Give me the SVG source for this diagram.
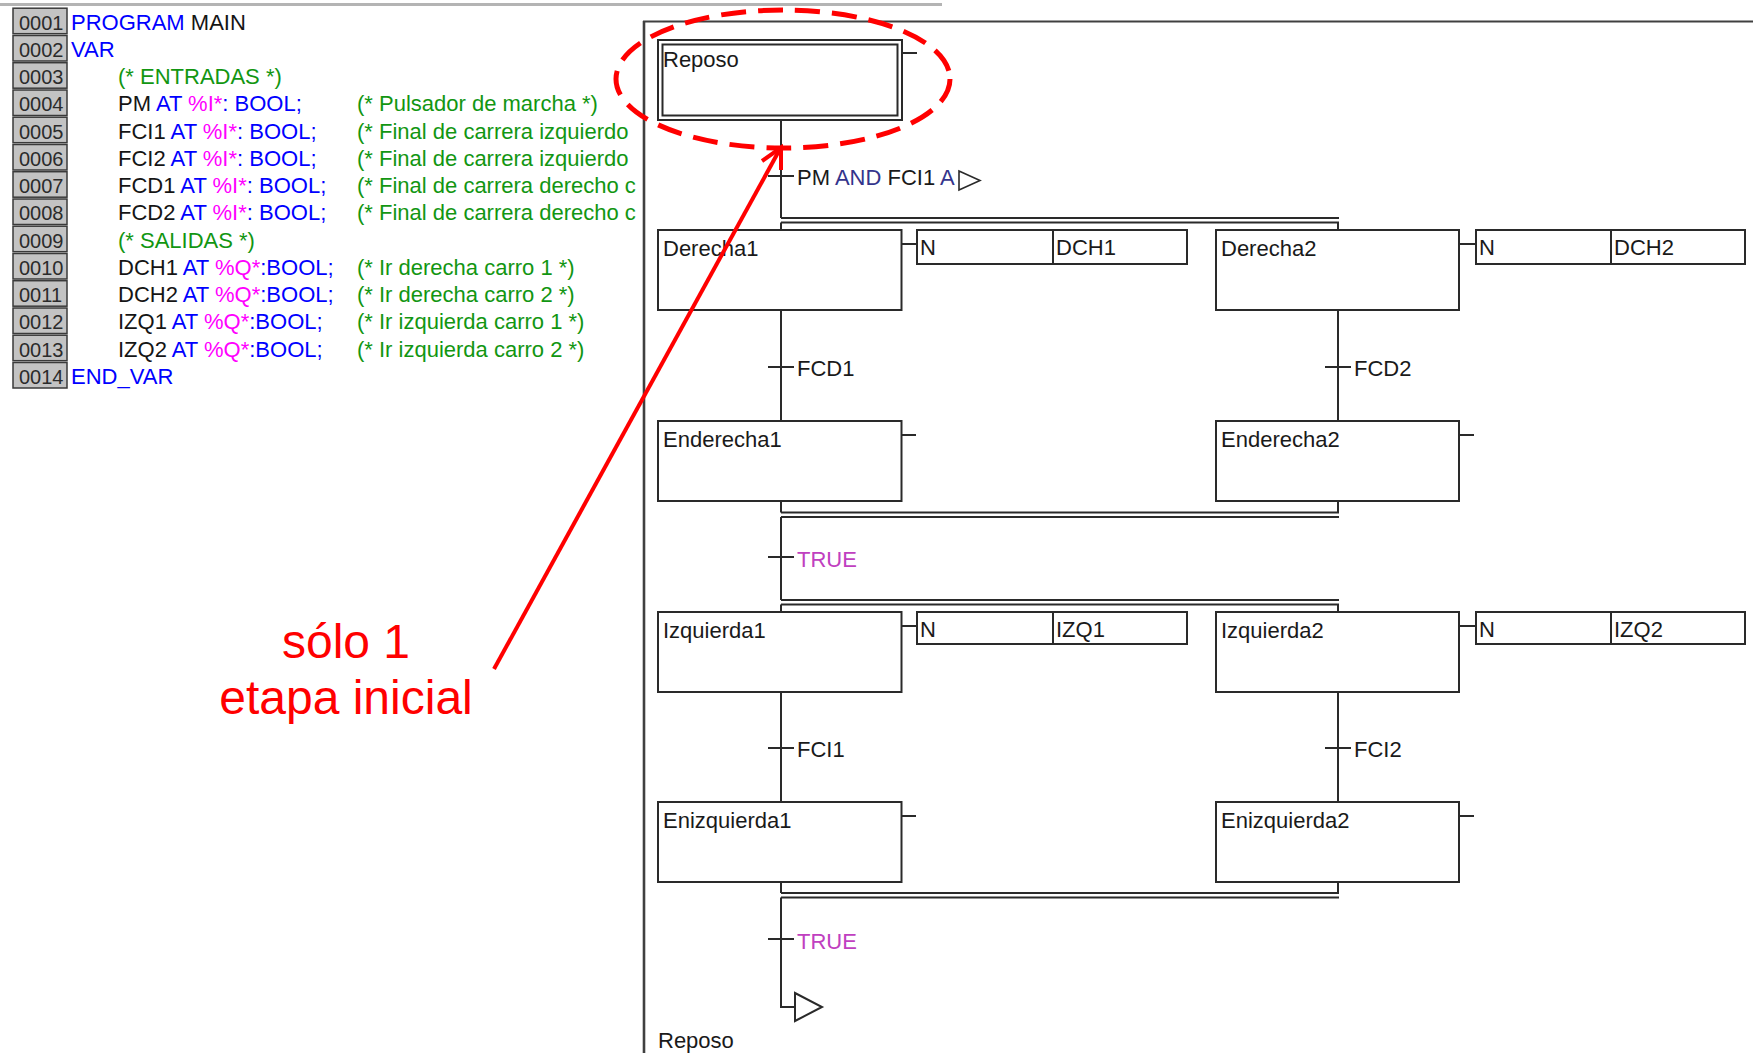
<svg xmlns="http://www.w3.org/2000/svg" width="1753" height="1053" viewBox="0 0 1753 1053">
  <defs>
    <style>
      text { font-family: "Liberation Sans", Arial, sans-serif; }
      .code { font-size: 22px; }
      .ln { font-size: 20px; fill: #2b2b2b; }
      .kw { fill: #0000ff; }
      .id { fill: #151515; }
      .ad { fill: #ff00ff; }
      .cm { fill: #129612; }
      .lnbox { fill: #c3c3c3; stroke: #3a3a3a; stroke-width: 1.5; }
      .lnhi { stroke: #f4f4f4; stroke-width: 1.2; fill: none; }
      .frame { stroke: #404040; fill: none; }
      .step { fill: #ffffff; stroke: #2a2a2a; stroke-width: 2; }
      .act { fill: #ffffff; stroke: #2a2a2a; stroke-width: 2; }
      .wire { stroke: #2a2a2a; stroke-width: 2; fill: none; }
      .lbl { font-size: 22px; fill: #1a1a1a; }
      .op { fill: #34348c; }
      .tru { fill: #c040c0; }
      .red { stroke: #ff0000; fill: none; }
      .note { font-size: 48px; fill: #ff0000; text-anchor: middle; }
    </style>
    <clipPath id="codeClip">
      <rect x="0" y="0" width="642" height="1053"/>
    </clipPath>
  </defs>

  <rect width="1753" height="1053" fill="#ffffff"/>

  <!-- window frame -->
  <g id="frame">
    <line class="frame" x1="0" y1="4.5" x2="942" y2="4.5" stroke="#b8b8b8" style="stroke:#b4b4b4" stroke-width="3"/>
    <line class="frame" x1="644" y1="21" x2="644" y2="1053" stroke-width="2.6"/>
    <line class="frame" x1="643" y1="21.5" x2="1753" y2="21.5" stroke-width="2"/>
  </g>

  <!-- declaration editor -->
  <g id="code-panel" clip-path="url(#codeClip)">
    <g id="line-numbers">
      <rect class="lnbox" x="13" y="8.2" width="54" height="25.5"/>
      <rect class="lnbox" x="13" y="35.5" width="54" height="25.5"/>
      <rect class="lnbox" x="13" y="62.7" width="54" height="25.5"/>
      <rect class="lnbox" x="13" y="90" width="54" height="25.5"/>
      <rect class="lnbox" x="13" y="117.2" width="54" height="25.5"/>
      <rect class="lnbox" x="13" y="144.5" width="54" height="25.5"/>
      <rect class="lnbox" x="13" y="171.7" width="54" height="25.5"/>
      <rect class="lnbox" x="13" y="199" width="54" height="25.5"/>
      <rect class="lnbox" x="13" y="226.2" width="54" height="25.5"/>
      <rect class="lnbox" x="13" y="253.5" width="54" height="25.5"/>
      <rect class="lnbox" x="13" y="280.7" width="54" height="25.5"/>
      <rect class="lnbox" x="13" y="308" width="54" height="25.5"/>
      <rect class="lnbox" x="13" y="335.2" width="54" height="25.5"/>
      <rect class="lnbox" x="13" y="362.5" width="54" height="25.5"/>
      <text class="ln" x="19" y="29.5">0001</text>
      <text class="ln" x="19" y="56.75">0002</text>
      <text class="ln" x="19" y="84">0003</text>
      <text class="ln" x="19" y="111.25">0004</text>
      <text class="ln" x="19" y="138.5">0005</text>
      <text class="ln" x="19" y="165.75">0006</text>
      <text class="ln" x="19" y="193">0007</text>
      <text class="ln" x="19" y="220.25">0008</text>
      <text class="ln" x="19" y="247.5">0009</text>
      <text class="ln" x="19" y="274.75">0010</text>
      <text class="ln" x="19" y="302">0011</text>
      <text class="ln" x="19" y="329.25">0012</text>
      <text class="ln" x="19" y="356.5">0013</text>
      <text class="ln" x="19" y="383.75">0014</text>
    </g>
    <g id="source">
      <text class="code" x="71" y="29.5"><tspan class="kw">PROGRAM</tspan><tspan class="id"> MAIN</tspan></text>
      <text class="code kw" x="71" y="56.75">VAR</text>
      <text class="code cm" x="118" y="84">(* ENTRADAS *)</text>
      <text class="code" x="118" y="111.25"><tspan class="id">PM</tspan><tspan class="kw"> AT </tspan><tspan class="ad">%I*</tspan><tspan class="kw">: BOOL;</tspan></text>
      <text class="code" x="118" y="138.5"><tspan class="id">FCI1</tspan><tspan class="kw"> AT </tspan><tspan class="ad">%I*</tspan><tspan class="kw">: BOOL;</tspan></text>
      <text class="code" x="118" y="165.75"><tspan class="id">FCI2</tspan><tspan class="kw"> AT </tspan><tspan class="ad">%I*</tspan><tspan class="kw">: BOOL;</tspan></text>
      <text class="code" x="118" y="193"><tspan class="id">FCD1</tspan><tspan class="kw"> AT </tspan><tspan class="ad">%I*</tspan><tspan class="kw">: BOOL;</tspan></text>
      <text class="code" x="118" y="220.25"><tspan class="id">FCD2</tspan><tspan class="kw"> AT </tspan><tspan class="ad">%I*</tspan><tspan class="kw">: BOOL;</tspan></text>
      <text class="code cm" x="118" y="247.5">(* SALIDAS *)</text>
      <text class="code" x="118" y="274.75"><tspan class="id">DCH1</tspan><tspan class="kw"> AT </tspan><tspan class="ad">%Q*</tspan><tspan class="kw">:BOOL;</tspan></text>
      <text class="code" x="118" y="302"><tspan class="id">DCH2</tspan><tspan class="kw"> AT </tspan><tspan class="ad">%Q*</tspan><tspan class="kw">:BOOL;</tspan></text>
      <text class="code" x="118" y="329.25"><tspan class="id">IZQ1</tspan><tspan class="kw"> AT </tspan><tspan class="ad">%Q*</tspan><tspan class="kw">:BOOL;</tspan></text>
      <text class="code" x="118" y="356.5"><tspan class="id">IZQ2</tspan><tspan class="kw"> AT </tspan><tspan class="ad">%Q*</tspan><tspan class="kw">:BOOL;</tspan></text>
      <text class="code kw" x="71" y="383.75">END_VAR</text>
      <text class="code cm" x="357" y="111.25">(* Pulsador de marcha *)</text>
      <text class="code cm" x="357" y="138.5">(* Final de carrera izquierdo</text>
      <text class="code cm" x="357" y="165.75">(* Final de carrera izquierdo</text>
      <text class="code cm" x="357" y="193">(* Final de carrera derecho c</text>
      <text class="code cm" x="357" y="220.25">(* Final de carrera derecho c</text>
      <text class="code cm" x="357" y="274.75">(* Ir derecha carro 1 *)</text>
      <text class="code cm" x="357" y="302">(* Ir derecha carro 2 *)</text>
      <text class="code cm" x="357" y="329.25">(* Ir izquierda carro 1 *)</text>
      <text class="code cm" x="357" y="356.5">(* Ir izquierda carro 2 *)</text>
    </g>
  </g>

  <!-- SFC links: step lines, parallel branches, transition bars -->
  <g id="connectors" class="wire">
    <!-- left branch -->
    <line x1="781" y1="120" x2="781" y2="218"/>
    <line x1="781" y1="222.5" x2="781" y2="230"/>
    <line x1="781" y1="310" x2="781" y2="421"/>
    <line x1="781" y1="501" x2="781" y2="512.5"/>
    <line x1="781" y1="517" x2="781" y2="600"/>
    <line x1="781" y1="604.5" x2="781" y2="612"/>
    <line x1="781" y1="692" x2="781" y2="802"/>
    <line x1="781" y1="882" x2="781" y2="893"/>
    <polyline points="781,897.5 781,1007 795,1007"/>
    <!-- right branch -->
    <line x1="1338" y1="222.5" x2="1338" y2="230"/>
    <line x1="1338" y1="310" x2="1338" y2="421"/>
    <line x1="1338" y1="501" x2="1338" y2="512.5"/>
    <line x1="1338" y1="604.5" x2="1338" y2="612"/>
    <line x1="1338" y1="692" x2="1338" y2="802"/>
    <line x1="1338" y1="882" x2="1338" y2="893"/>
    <!-- simultaneous divergence / convergence double bars -->
    <line x1="781" y1="218" x2="1339" y2="218"/>
    <line x1="781" y1="222.5" x2="1339" y2="222.5"/>
    <line x1="781" y1="512.5" x2="1339" y2="512.5"/>
    <line x1="781" y1="517" x2="1339" y2="517"/>
    <line x1="781" y1="600" x2="1339" y2="600"/>
    <line x1="781" y1="604.5" x2="1339" y2="604.5"/>
    <line x1="781" y1="893" x2="1339" y2="893"/>
    <line x1="781" y1="897.5" x2="1339" y2="897.5"/>
    <!-- step to action links and empty action stubs -->
    <line x1="902" y1="53" x2="917" y2="53"/>
    <line x1="901.5" y1="244" x2="917" y2="244"/>
    <line x1="1459" y1="244" x2="1476" y2="244"/>
    <line x1="901.5" y1="435" x2="916" y2="435"/>
    <line x1="1459" y1="435" x2="1474" y2="435"/>
    <line x1="901.5" y1="626" x2="917" y2="626"/>
    <line x1="1459" y1="626" x2="1476" y2="626"/>
    <line x1="901.5" y1="816" x2="916" y2="816"/>
    <line x1="1459" y1="816" x2="1474" y2="816"/>
    <!-- final jump -->
    <polygon points="795,993 822,1007 795,1021" fill="#ffffff"/>
  </g>

  <!-- steps -->
  <g id="step-reposo">
    <rect class="step" x="658" y="40" width="244" height="80"/>
    <rect class="step" x="662.5" y="44.5" width="235" height="71"/>
    <text class="lbl" x="663" y="66.5">Reposo</text>
  </g>
  <g id="step-derecha1">
    <rect class="step" x="658" y="230" width="243.5" height="80"/>
    <text class="lbl" x="663" y="256">Derecha1</text>
  </g>
  <g id="step-derecha2">
    <rect class="step" x="1216" y="230" width="243" height="80"/>
    <text class="lbl" x="1221" y="256">Derecha2</text>
  </g>
  <g id="step-enderecha1">
    <rect class="step" x="658" y="421" width="243.5" height="80"/>
    <text class="lbl" x="663" y="447">Enderecha1</text>
  </g>
  <g id="step-enderecha2">
    <rect class="step" x="1216" y="421" width="243" height="80"/>
    <text class="lbl" x="1221" y="447">Enderecha2</text>
  </g>
  <g id="step-izquierda1">
    <rect class="step" x="658" y="612" width="243.5" height="80"/>
    <text class="lbl" x="663" y="638">Izquierda1</text>
  </g>
  <g id="step-izquierda2">
    <rect class="step" x="1216" y="612" width="243" height="80"/>
    <text class="lbl" x="1221" y="638">Izquierda2</text>
  </g>
  <g id="step-enizquierda1">
    <rect class="step" x="658" y="802" width="243.5" height="80"/>
    <text class="lbl" x="663" y="828">Enizquierda1</text>
  </g>
  <g id="step-enizquierda2">
    <rect class="step" x="1216" y="802" width="243" height="80"/>
    <text class="lbl" x="1221" y="828">Enizquierda2</text>
  </g>

  <!-- action blocks -->
  <g id="action-dch1">
    <rect class="act" x="917" y="230" width="270" height="34"/>
    <line class="wire" x1="1053" y1="230" x2="1053" y2="264"/>
    <text class="lbl" x="920" y="255">N</text>
    <text class="lbl" x="1056" y="255">DCH1</text>
  </g>
  <g id="action-dch2">
    <rect class="act" x="1476" y="230" width="269" height="34"/>
    <line class="wire" x1="1611" y1="230" x2="1611" y2="264"/>
    <text class="lbl" x="1479" y="255">N</text>
    <text class="lbl" x="1614" y="255">DCH2</text>
  </g>
  <g id="action-izq1">
    <rect class="act" x="917" y="612" width="270" height="32"/>
    <line class="wire" x1="1053" y1="612" x2="1053" y2="644"/>
    <text class="lbl" x="920" y="637">N</text>
    <text class="lbl" x="1056" y="637">IZQ1</text>
  </g>
  <g id="action-izq2">
    <rect class="act" x="1476" y="612" width="269" height="32"/>
    <line class="wire" x1="1611" y1="612" x2="1611" y2="644"/>
    <text class="lbl" x="1479" y="637">N</text>
    <text class="lbl" x="1614" y="637">IZQ2</text>
  </g>

  <!-- transitions -->
  <g id="t-start">
    <line class="wire" x1="768" y1="176" x2="794" y2="176"/>
    <text class="lbl" x="797" y="185"><tspan>PM</tspan><tspan class="op"> AND </tspan><tspan>FCI1</tspan><tspan class="op"> A</tspan></text>
    <polygon class="wire" points="959,171 980,180.5 959,190" style="stroke-width:1.6"/>
  </g>
  <g id="t-fcd1">
    <line class="wire" x1="768" y1="367" x2="794" y2="367"/>
    <text class="lbl" x="797" y="376">FCD1</text>
  </g>
  <g id="t-fcd2">
    <line class="wire" x1="1325" y1="367" x2="1351" y2="367"/>
    <text class="lbl" x="1354" y="376">FCD2</text>
  </g>
  <g id="t-true1">
    <line class="wire" x1="768" y1="557" x2="794" y2="557"/>
    <text class="lbl tru" x="797" y="566.5">TRUE</text>
  </g>
  <g id="t-fci1">
    <line class="wire" x1="768" y1="748" x2="794" y2="748"/>
    <text class="lbl" x="797" y="757">FCI1</text>
  </g>
  <g id="t-fci2">
    <line class="wire" x1="1325" y1="748" x2="1351" y2="748"/>
    <text class="lbl" x="1354" y="757">FCI2</text>
  </g>
  <g id="t-true2">
    <line class="wire" x1="768" y1="939" x2="794" y2="939"/>
    <text class="lbl tru" x="797" y="948.5">TRUE</text>
  </g>
  <g id="jump-reposo">
    <text class="lbl" x="658" y="1048">Reposo</text>
  </g>

  <!-- red callout -->
  <g id="callout">
    <ellipse class="red" cx="783" cy="79" rx="167" ry="69" stroke-width="5" stroke-dasharray="25 12"/>
    <line class="red" x1="494" y1="669" x2="780" y2="149" stroke-width="4"/>
    <polyline class="red" points="762,161 781,147.5 781,170" stroke-width="4" stroke-linecap="butt" stroke-linejoin="miter"/>
    <text class="note" x="346" y="658">sólo 1</text>
    <text class="note" x="346" y="714">etapa inicial</text>
  </g>
</svg>
